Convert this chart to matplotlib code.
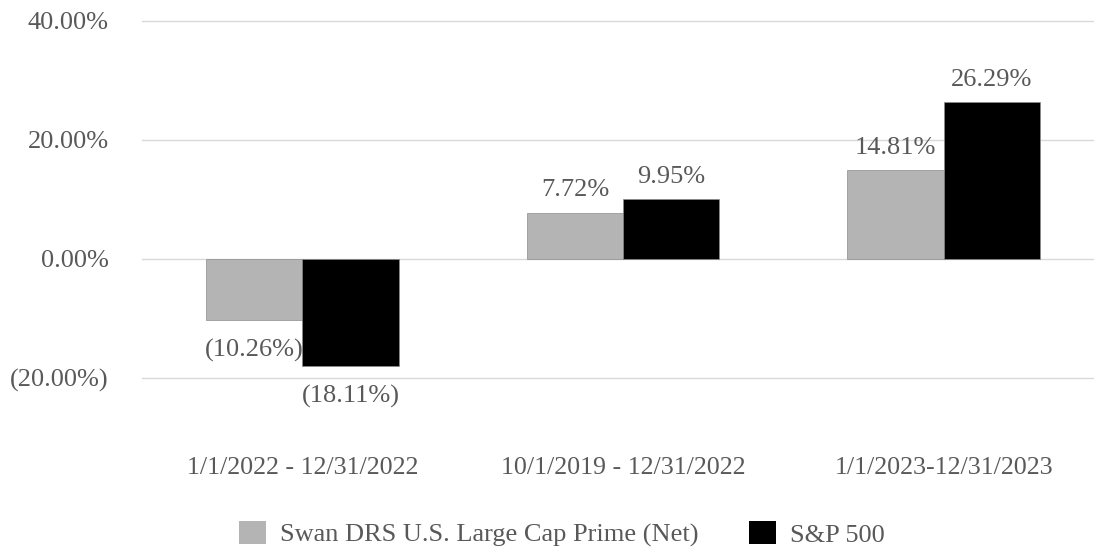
import matplotlib
matplotlib.use("Agg")
import matplotlib.pyplot as plt
from matplotlib.patches import Patch
import numpy as np

periods = ["1/1/2022 - 12/31/2022", "10/1/2019 - 12/31/2022", "1/1/2023-12/31/2023"]
swan = [-10.26, 7.72, 14.81]
sp500 = [-18.11, 9.95, 26.29]
series_names = ["Swan DRS U.S. Large Cap Prime (Net)", "S&P 500"]
yticks = [-20, 0, 20, 40]

text_col = "#595959"
grey = "#b4b4b4"

plt.rcParams["font.family"] = ["Liberation Serif", "DejaVu Serif"]

fig = plt.figure(figsize=(10.94, 5.48), dpi=100)
ax = fig.add_axes([142 / 1094, 170.5 / 548, 962 / 1094, 357 / 548])

x = np.arange(len(periods))
w = 0.3
b1 = ax.bar(x - w / 2, swan, w, color=grey, edgecolor="#8c8c8c", linewidth=0.5, zorder=3)
b2 = ax.bar(x + w / 2, sp500, w, color="black", edgecolor="#8c8c8c", linewidth=0.5, zorder=3)

def fmt(v):
    return "(%.2f%%)" % abs(v) if v < 0 else "%.2f%%" % v

# value labels above / below each bar
for bars, vals in [(b1, swan), (b2, sp500)]:
    for r, v in zip(bars, vals):
        off = 16 if v >= 0 else -22
        ax.annotate(fmt(v), (r.get_x() + r.get_width() / 2, v), xytext=(0, off),
                    textcoords="offset points", ha="center", va="center",
                    fontsize=19, color=text_col, annotation_clip=False, zorder=4)

ax.set_xlim(-0.5, 2.5)
ax.set_ylim(-20, 40)
ax.set_yticks(yticks)
ax.set_yticklabels([fmt(t) for t in yticks])
ax.set_xticks(x)
ax.set_xticklabels(periods)
ax.tick_params(axis="y", length=0, pad=24, labelsize=19, labelcolor=text_col)
ax.tick_params(axis="x", length=0, pad=57, labelsize=18.7, labelcolor=text_col)
ax.grid(axis="y", color="#d9d9d9", linewidth=1.0, zorder=0)
for gl in ax.get_ygridlines():
    gl.set_clip_on(False)
for s in ax.spines.values():
    s.set_visible(False)

handles = [Patch(facecolor=grey), Patch(facecolor="black")]
fig.legend(handles, series_names, loc="center", bbox_to_anchor=(562 / 1094, 1 - 534 / 548),
           ncol=2, frameon=False, fontsize=19, labelcolor=text_col, borderpad=0.2,
           handlelength=1.03, handleheight=0.95, handletextpad=0.53, columnspacing=1.9)

fig.savefig("out.png", dpi=100)
